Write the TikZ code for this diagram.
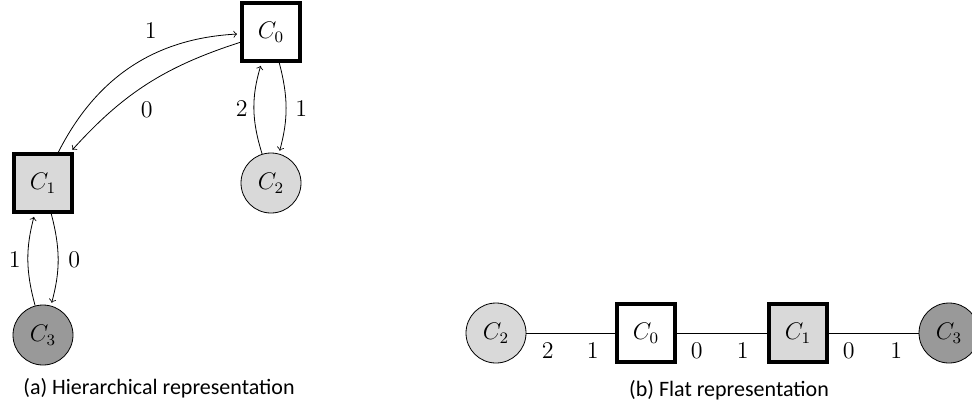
\documentclass[tikz,border=0pt]{standalone}
\usepackage{fontspec}
\newfontfamily\capfont{Carlito}
\definecolor{lightg}{HTML}{D9D9D9}
\definecolor{darkg}{HTML}{999999}
\begin{document}
\begin{tikzpicture}[x=0.5pt,y=-0.5pt,
  box/.style={draw, line width=2pt, minimum size=29pt, inner sep=0pt, font=\large},
  ball/.style={draw, circle, line width=0.4pt, minimum size=30pt, inner sep=0pt, font=\large},
  arr/.style={->, line width=0.4pt, shorten >=1.5pt},
  lbl/.style={inner sep=0pt, font=\large},
  captext/.style={font=\capfont\fontsize{11}{13}\selectfont, inner sep=0pt}]
\useasboundingbox (0,0) rectangle (972,408);
% (a) hierarchical
\node[box, fill=white] (a0) at (271,32) {$C_0$};
\node[box, fill=lightg] (a1) at (43,183) {$C_1$};
\node[ball, fill=lightg] (a2) at (271,183) {$C_2$};
\node[ball, fill=darkg] (a3) at (43,335) {$C_3$};
\draw[arr] (a1) to[bend left=30] node[lbl, pos=0.6, above=8.5pt] {1} (a0);
\draw[arr] (a0) to[bend right=15] node[lbl, pos=0.5, below=8.5pt] {0} (a1);
\draw[arr] (a2) to[bend left=17] node[lbl, left=3pt] {2} (a0);
\draw[arr] (a0) to[bend left=15] node[lbl, right=4.5pt] {1} (a2);
\draw[arr] (a3) to[bend left=15] node[lbl, left=3.5pt] {1} (a1);
\draw[arr] (a1) to[bend left=15] node[lbl, right=5pt] {0} (a3);
\node[captext] (capa) at (159,388) {(a) Hierarchical representation};
% (b) flat
\node[ball, fill=lightg] (b2) at (496,333) {$C_2$};
\node[box, fill=white] (b0) at (646,333) {$C_0$};
\node[box, fill=lightg] (b1) at (798,333) {$C_1$};
\node[ball, fill=darkg] (b3) at (949,333) {$C_3$};
\draw (b2) -- node[lbl, pos=0.24, below=4.5pt] {2} node[lbl, pos=0.75, below=4.5pt] {1} (b0);
\draw (b0) -- node[lbl, pos=0.22, below=4.5pt] {0} node[lbl, pos=0.73, below=4.5pt] {1} (b1);
\draw (b1) -- node[lbl, pos=0.22, below=4.5pt] {0} node[lbl, pos=0.75, below=4.5pt] {1} (b3);
\node[captext] (capb) at (729,390) {(b) Flat representation};
\end{tikzpicture}
\end{document}
